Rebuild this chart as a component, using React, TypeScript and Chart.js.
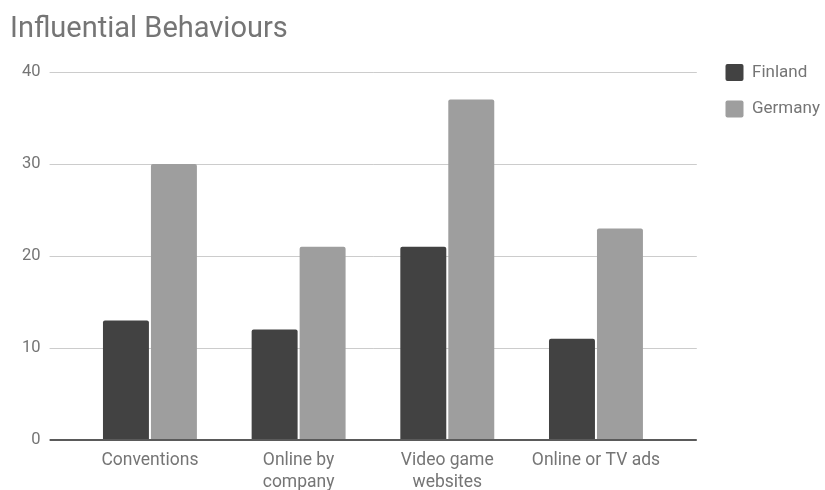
import React, { useEffect, useRef } from "react";
import { Chart, registerables } from "chart.js";

Chart.register(...registerables);

const categories: string[][] = [
  ["Conventions"],
  ["Online by", "company"],
  ["Video game", "websites"],
  ["Online or TV ads"],
];
const seriesNames = ["Finland", "Germany"];
const finland = [13, 12, 21, 11];
const germany = [30, 21, 37, 23];
const seriesColors = ["#424242", "#9e9e9e"];
const yTickStep = 10;
const yMin = 0;
const yMax = 43;

const FONT = "Roboto, 'Noto Sans', sans-serif";
const TEXT = "#757575";

const gridColor = (ctx: any) => (ctx.tick && ctx.tick.value === 0 ? "#5a5a5a" : "#cccccc");
const gridWidth = (ctx: any) => (ctx.tick && ctx.tick.value === 0 ? 2 : 1);

export default function App() {
  const ref = useRef<HTMLCanvasElement | null>(null);

  useEffect(() => {
    document.body.style.margin = "0";
    const canvas = ref.current;
    if (!canvas) return;
    const chart = new Chart(canvas, {
      type: "bar",
      data: {
        labels: categories,
        datasets: [
          {
            label: seriesNames[0],
            data: finland,
            backgroundColor: seriesColors[0],
            borderWidth: 0,
            borderRadius: 2,
            categoryPercentage: 0.6454,
            barPercentage: 0.958,
          },
          {
            label: seriesNames[1],
            data: germany,
            backgroundColor: seriesColors[1],
            borderWidth: 0,
            borderRadius: 2,
            categoryPercentage: 0.6454,
            barPercentage: 0.958,
          },
        ],
      },
      options: {
        animation: false,
        responsive: false,
        maintainAspectRatio: false,
        layout: { padding: { left: 10, right: 0, top: 0, bottom: 0 } },
        plugins: {
          title: {
            display: true,
            text: "Influential Behaviours",
            align: "start",
            color: TEXT,
            font: { family: FONT, size: 29, weight: "normal", lineHeight: 0.9 },
            padding: { top: 16.9, bottom: 1.4 },
          },
          legend: {
            display: true,
            position: "right",
            align: "start",
            fullSize: false,
            maxWidth: 119,
            labels: {
              color: TEXT,
              font: { family: FONT, size: 17 },
              boxWidth: 18,
              boxHeight: 17,
              padding: 19.5,
              useBorderRadius: true,
              borderRadius: 2,
            },
          },
          tooltip: { enabled: false },
        },
        scales: {
          x: {
            grid: { display: false, drawTicks: false },
            border: { display: false },
            ticks: {
              color: TEXT,
              font: { family: FONT, size: 17.5, lineHeight: 1.257 },
              padding: 10,
              maxRotation: 0,
              autoSkip: false,
            },
            afterFit: (scale: any) => {
              scale.height = 50;
            },
          },
          y: {
            min: yMin,
            max: yMax,
            grid: {
              color: gridColor,
              lineWidth: gridWidth,
              drawTicks: true,
              tickLength: 26,
            },
            border: { display: false },
            ticks: {
              stepSize: yTickStep,
              includeBounds: false,
              color: TEXT,
              font: { family: FONT, size: 16.5 },
              padding: 9,
            },
            afterFit: (scale: any) => {
              scale.width = 65.6;
            },
          },
          y2: {
            position: "right",
            min: yMin,
            max: yMax,
            grid: {
              color: gridColor,
              lineWidth: gridWidth,
              drawOnChartArea: false,
              drawTicks: true,
              tickLength: 26.5,
            },
            border: { display: false },
            ticks: { display: false, stepSize: yTickStep, includeBounds: false },
            afterFit: (scale: any) => {
              scale.width = 35.7;
            },
          },
        },
      },
    });
    return () => chart.destroy();
  }, []);

  return (
    <div style={{ position: "absolute", left: 0, top: 0, width: 825, height: 490, background: "#fff" }}>
      <canvas ref={ref} width={825} height={490} style={{ width: 825, height: 490, display: "block" }} />
    </div>
  );
}
